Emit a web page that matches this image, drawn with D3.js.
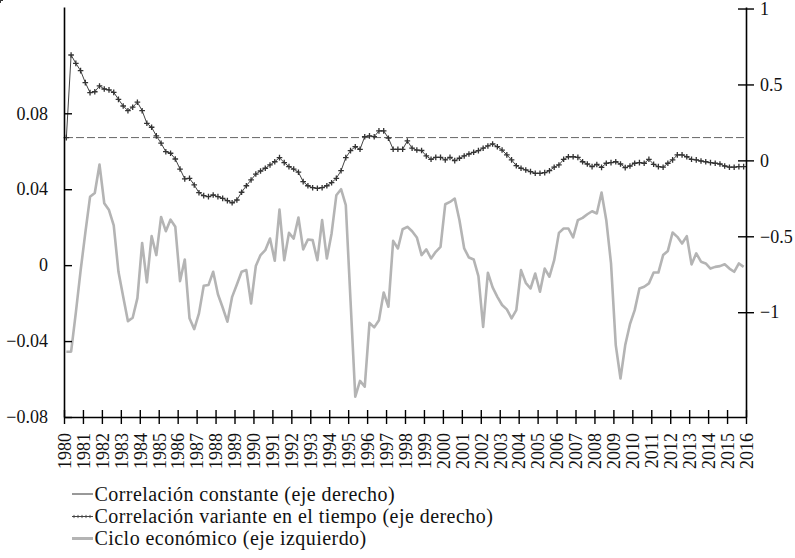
<!DOCTYPE html>
<html>
<head>
<meta charset="utf-8">
<script src="https://cdn.jsdelivr.net/npm/d3@7"></script>
<style>
  body { margin: 0; background: #fff; }
  svg { display: block; }
  text { font-family: "Liberation Serif", "DejaVu Serif", serif; fill: #111; }
</style>
</head>
<body>
<svg id="chart" width="795" height="558"></svg>
<script>
// years on the bottom axis
let years = [1980, 1981, 1982, 1983, 1984, 1985, 1986, 1987, 1988, 1989, 1990,
  1991, 1992, 1993, 1994, 1995, 1996, 1997, 1998, 1999, 2000, 2001, 2002, 2003,
  2004, 2005, 2006, 2007, 2008, 2009, 2010, 2011, 2012, 2013, 2014, 2015, 2016]

let leftTicks = [-0.08, -0.04, 0, 0.04, 0.08]
let rightTicks = [-1, -0.5, 0, 0.5, 1]

// ciclo economico, trimestral (eje izquierdo)
let ciclo = [
  -0.0456, -0.0456, -0.025, -0.003, 0.017, 0.036, 0.038, 0.053, 0.0326, 0.029,
  0.021, -0.0035, -0.0167, -0.0295, -0.0277, -0.0174, 0.0117, -0.0091, 0.0153, 0.0053,
  0.0254, 0.0179, 0.024, 0.0202, -0.0084, 0.003, -0.028, -0.0337, -0.0254, -0.0109,
  -0.0105, -0.0035, -0.0153, -0.0223, -0.0298, -0.0167, -0.0102, -0.0035, -0.0026, -0.0202,
  -0.0005, 0.0053, 0.0079, 0.014, 0.0023, 0.0293, 0.0026, 0.017, 0.014, 0.0251,
  0.0083, 0.0135, 0.0132, 0.0026, 0.0237, 0.0035, 0.0167, 0.0368, 0.04, 0.0316,
  -0.0188, -0.0693, -0.061, -0.064, -0.0304, -0.0328, -0.029, -0.0144, -0.0219, 0.0128,
  0.0088, 0.0189, 0.0202, 0.0179, 0.0146, 0.0053, 0.0083, 0.0035, 0.007, 0.0096,
  0.0321, 0.0333, 0.0351, 0.0237, 0.0088, 0.004, 0.003, -0.0058, -0.0325, -0.004,
  -0.0117, -0.0167, -0.021, -0.0233, -0.028, -0.0237, -0.0026, -0.0093, -0.0123, -0.0044,
  -0.014, -0.0018, -0.0061, 0.0026, 0.017, 0.0193, 0.0193, 0.0146, 0.0237, 0.0249,
  0.0268, 0.0284, 0.0272, 0.0383, 0.0237, 0.0009, -0.0421, -0.0597, -0.0421, -0.0311,
  -0.0237, -0.0123, -0.0114, -0.0096, -0.0039, -0.0039, 0.0053, 0.0075, 0.0172, 0.0149,
  0.0114, 0.0153, 0.0004, 0.0062, 0.0018, 0.0009, -0.0018, -0.0009, -0.0005, 0.0005,
  -0.0018, -0.0035, 0.0009, -0.0009, -0.0005, -0.0004, -0.0018, -0.0005
]

// correlacion variante en el tiempo (eje derecho)
let corrVar = [
  0.15, 0.694, 0.639, 0.591, 0.512, 0.446, 0.452, 0.49, 0.47, 0.464,
  0.448, 0.402, 0.358, 0.327, 0.35, 0.383, 0.327, 0.244, 0.218, 0.161,
  0.113, 0.057, 0.047, 0.009, -0.057, -0.122, -0.118, -0.162, -0.213, -0.232,
  -0.239, -0.228, -0.239, -0.25, -0.265, -0.279, -0.261, -0.21, -0.167, -0.129,
  -0.09, -0.07, -0.052, -0.03, -0.009, 0.018, -0.015, -0.041, -0.057, -0.078,
  -0.14, -0.167, -0.18, -0.184, -0.18, -0.167, -0.147, -0.118, -0.068, 0.018,
  0.064, 0.09, 0.073, 0.156, 0.161, 0.156, 0.194, 0.194, 0.146, 0.073,
  0.073, 0.073, 0.128, 0.08, 0.068, 0.065, 0.029, 0.007, 0.02, 0.02,
  0.003, 0.02, -0.002, 0.014, 0.029, 0.042, 0.053, 0.064, 0.08, 0.095,
  0.108, 0.09, 0.068, 0.036, 0.003, -0.035, -0.052, -0.063, -0.074, -0.085,
  -0.085, -0.081, -0.068, -0.045, -0.03, 0.007, 0.024, 0.024, 0.02, -0.009,
  -0.024, -0.041, -0.027, -0.046, -0.019, -0.015, -0.009, -0.024, -0.048, -0.037,
  -0.019, -0.015, -0.019, 0.007, -0.026, -0.041, -0.045, -0.019, 0.003, 0.036,
  0.036, 0.024, 0.007, 0.003, -0.004, -0.009, -0.015, -0.019, -0.024, -0.037,
  -0.045, -0.045, -0.041, -0.041, -0.041, -0.041, -0.041, -0.041
]

// correlacion constante (eje derecho)
let corrConst = 0.15

let legendLabels = [
  'Correlación constante (eje derecho)',
  'Correlación variante en el tiempo (eje derecho)',
  'Ciclo económico (eje izquierdo)'
]

// quarters 1980T1 ... 2016T4
let periods = []
years.slice(0, -1).forEach(y => {
  for (let q = 1; q <= 4; q++) periods.push(y + 'T' + q)
})

let svg = d3.select('#chart')

let plotLeft = 64, plotRight = 746, plotTop = 7, plotBottom = 417

let x = d3.scalePoint().domain(periods).range([plotLeft, plotRight]).padding(0.5)
let xYear = d3.scaleLinear().domain([1980, 2016]).range([plotLeft, plotRight])
let yL = d3.scaleLinear().domain([-0.08, 0.136]).range([plotBottom, plotTop])
let yR = d3.scaleLinear().domain([-1.69, 1.01]).range([plotBottom, plotTop])

let plot = svg.append('g')
let axes = svg.append('g')

// ciclo
let cicloLine = d3.line()
  .x((d, i) => x(periods[i]))
  .y(d => yL(d))

plot.append('path')
  .datum(ciclo)
  .attr('d', cicloLine)
  .style('fill', 'none')
  .style('stroke', '#b4b4b4')
  .style('stroke-width', 2.6)
  .style('stroke-linejoin', 'round')

// constant correlation, dashed
plot.append('line')
  .attr('x1', plotLeft + 1)
  .attr('x2', plotRight - 1)
  .attr('y1', yR(corrConst))
  .attr('y2', yR(corrConst))
  .style('stroke', '#666')
  .style('stroke-width', 1)
  .style('stroke-dasharray', '8,3')

// time varying correlation
let corrLine = d3.line()
  .x((d, i) => x(periods[i]))
  .y(d => yR(d))

plot.append('path')
  .datum(corrVar)
  .attr('d', corrLine)
  .style('fill', 'none')
  .style('stroke', '#444')
  .style('stroke-width', 1)

let cross = 'M-2.8,0H2.8M0,-2.8V2.8'
plot.selectAll('.mark')
  .data(corrVar)
  .join('path')
  .attr('class', 'mark')
  .attr('transform', (d, i) => `translate(${x(periods[i])},${yR(d)})`)
  .attr('d', cross)
  .style('stroke', '#333')
  .style('stroke-width', 1.3)

// axes
let fmtL = d => d === 0 ? '0' : d3.format('.2f')(d)

let gL = axes.append('g')
  .attr('transform', `translate(${plotLeft},0)`)
  .call(d3.axisLeft(yL).tickValues(leftTicks).tickFormat(fmtL)
    .tickSize(8).tickSizeOuter(0).tickPadding(8))
gL.selectAll('.tick line').attr('x2', 8)

let gR = axes.append('g')
  .attr('transform', `translate(${plotRight},0)`)
  .call(d3.axisRight(yR).tickValues(rightTicks).tickFormat(d3.format(''))
    .tickSize(8).tickSizeOuter(0).tickPadding(6))
gR.selectAll('.tick line').attr('x1', -8)

let gB = axes.append('g')
  .attr('transform', `translate(0,${plotBottom})`)
  .call(d3.axisBottom(xYear).tickValues(years).tickFormat(d3.format('d'))
    .tickSize(7).tickSizeOuter(0))
gB.selectAll('.tick line').attr('y1', -7)
gB.selectAll('.tick text')
  .attr('y', 0)
  .attr('x', -16)
  .attr('dy', '0.35em')
  .attr('transform', 'rotate(-90)')
  .style('text-anchor', 'end')

axes.selectAll('.domain').style('stroke', '#000').style('stroke-width', 1.6)
axes.selectAll('.tick line').style('stroke', '#000').style('stroke-width', 1.4)
axes.selectAll('.tick text')
  .style('font-family', '"Liberation Serif", serif')
  .style('font-size', '18px')
  .style('fill', '#111')

// legend
let legend = svg.append('g')
let ly = [494, 516.5, 538.5]

legend.append('line')
  .attr('x1', 72).attr('x2', 93).attr('y1', ly[0]).attr('y2', ly[0])
  .style('stroke', '#333').style('stroke-width', 1)

legend.append('line')
  .attr('x1', 72).attr('x2', 93).attr('y1', ly[1]).attr('y2', ly[1])
  .style('stroke', '#444').style('stroke-width', 1)
legend.selectAll('.lmark')
  .data([74, 78, 82, 86, 90])
  .join('path')
  .attr('class', 'lmark')
  .attr('transform', d => `translate(${d},${ly[1]})`)
  .attr('d', 'M-1.6,0H1.6M0,-1.6V1.6')
  .style('stroke', '#444')
  .style('stroke-width', 0.9)

legend.append('line')
  .attr('x1', 72).attr('x2', 93).attr('y1', ly[2]).attr('y2', ly[2])
  .style('stroke', '#b4b4b4').style('stroke-width', 3)

legend.selectAll('.ltext')
  .data(legendLabels)
  .join('text')
  .attr('class', 'ltext')
  .attr('x', 94.5)
  .attr('y', (d, i) => ly[i])
  .attr('dy', '0.33em')
  .style('font-size', '20px')
  .style('letter-spacing', '0.45px')
  .text(d => d)
</script>
</body>
</html>
